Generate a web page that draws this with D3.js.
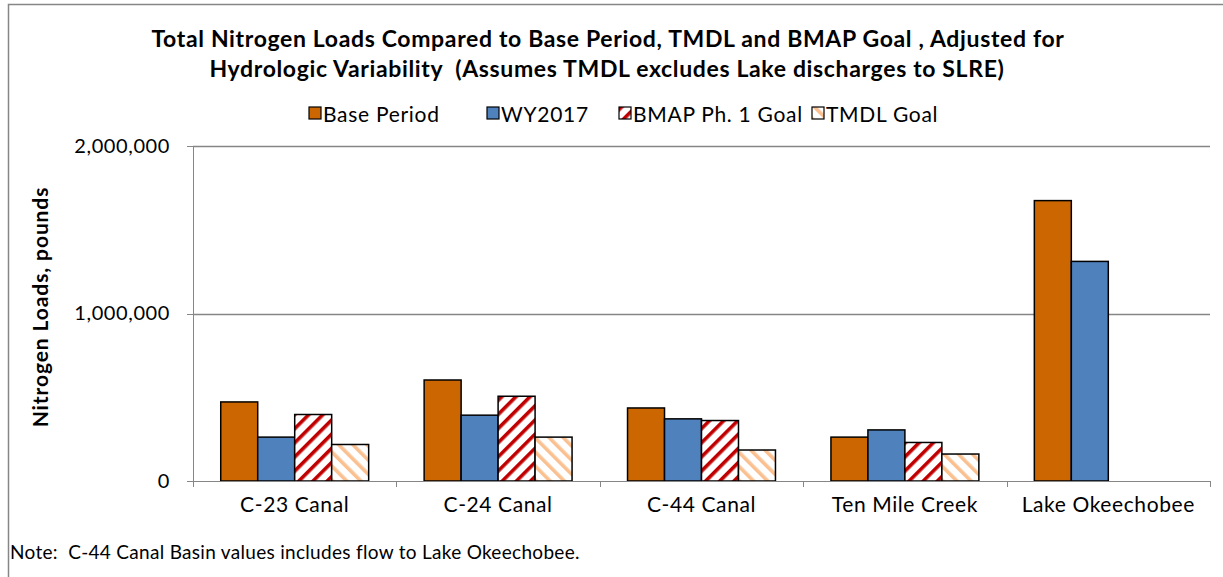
<!DOCTYPE html>
<html>
<head>
<meta charset="utf-8">
<script src="https://cdn.jsdelivr.net/npm/d3@7"></script>
<style>
  body { margin: 0; background: #fff; }
  svg text { font-family: Lato, "Open Sans", sans-serif; fill: #000; white-space: pre; }
  .axis path, .axis line { stroke: #868686; shape-rendering: crispEdges; }
</style>
</head>
<body>
<div id="chart"></div>
<script>
const categories = ['C-23 Canal', 'C-24 Canal', 'C-44 Canal', 'Ten Mile Creek', 'Lake Okeechobee'];
const seriesNames = ['Base Period', 'WY2017', 'BMAP Ph. 1 Goal', 'TMDL Goal'];
const basePeriod = [472000, 603000, 436000, 262000, 1674000];
const wy2017 = [262000, 393000, 371000, 305000, 1311000];
const bmapGoal = [397000, 506000, 361000, 230000, null];
const tmdlGoal = [218000, 262000, 185000, 161000, null];
const yTicks = [0, 1000000, 2000000];

const W = 1223, H = 577;
const margin = { top: 146, left: 193, right: 13, bottom: 96 };
const innerW = W - margin.left - margin.right;
const innerH = H - margin.top - margin.bottom;

const fills = ['#CC6600', '#4F81BD', 'url(#bmap)', 'url(#tmdl)'];
const seriesVals = [basePeriod, wy2017, bmapGoal, tmdlGoal];

const svg = d3.select('#chart').append('svg').attr('width', W).attr('height', H);

// hatch patterns
const defs = svg.append('defs');
const bm = defs.append('pattern').attr('id', 'bmap').attr('patternUnits', 'userSpaceOnUse')
  .attr('width', 10).attr('height', 10).attr('patternTransform', 'rotate(45)');
bm.append('rect').attr('width', 10).attr('height', 10).attr('fill', '#fff');
bm.append('rect').attr('width', 3.6).attr('height', 10).attr('fill', '#C00000');
const tm = defs.append('pattern').attr('id', 'tmdl').attr('patternUnits', 'userSpaceOnUse')
  .attr('width', 10).attr('height', 10).attr('patternTransform', 'rotate(-45)');
tm.append('rect').attr('width', 10).attr('height', 10).attr('fill', '#fff');
tm.append('rect').attr('width', 3.6).attr('height', 10).attr('fill', '#FAC090');

// outer border
svg.append('rect').attr('x', 8.5).attr('y', 4.5).attr('width', W).attr('height', H)
  .attr('fill', 'none').attr('stroke', '#868686').attr('stroke-width', 1.5);

// title
const title = svg.append('text').attr('text-anchor', 'middle').attr('font-weight', 'bold')
  .attr('font-size', 23).attr('letter-spacing', 0.65);
title.append('tspan').attr('x', 608).attr('y', 47).text('Total Nitrogen Loads Compared to Base Period, TMDL and BMAP Goal , Adjusted for');
title.append('tspan').attr('x', 607).attr('y', 77).text('Hydrologic Variability  (Assumes TMDL excludes Lake discharges to SLRE)');

const g = svg.append('g').attr('transform', `translate(${margin.left},${margin.top})`);

const x0 = d3.scaleBand().domain(categories).range([0, innerW]).paddingInner(0).paddingOuter(0);
const x1 = d3.scaleBand().domain(seriesNames).range([0, x0.bandwidth()]).paddingOuter(0.75).paddingInner(0);
const y = d3.scaleLinear().domain([0, 2000000]).range([innerH, 0]);

// gridlines
g.append('g').selectAll('line').data(yTicks.slice(1)).join('line')
  .attr('x1', 0).attr('x2', innerW)
  .attr('y1', d => Math.round(y(d)) + 0.5).attr('y2', d => Math.round(y(d)) + 0.5)
  .attr('stroke', '#868686').attr('stroke-width', 1.5);

// bars
const groups = g.append('g').selectAll('g').data(categories).join('g')
  .attr('transform', d => `translate(${x0(d)},0)`);
groups.selectAll('rect')
  .data((c, i) => seriesNames.map((s, j) => ({ s, j, v: seriesVals[j][i] })).filter(d => d.v != null))
  .join('rect')
  .attr('x', d => x1(d.s))
  .attr('width', x1.bandwidth())
  .attr('y', d => y(d.v))
  .attr('height', d => innerH - y(d.v))
  .attr('fill', d => fills[d.j])
  .attr('stroke', '#000').attr('stroke-width', 1.5);

// y axis
const yAxis = g.append('g').attr('class', 'axis')
  .call(d3.axisLeft(y).tickValues(yTicks).tickSize(6).tickPadding(17).tickFormat(d3.format(',')));
yAxis.selectAll('text').attr('font-size', 20).attr('letter-spacing', 0.6);
yAxis.select('.domain').attr('stroke-width', 1.5);

// x axis
const xAxis = g.append('g').attr('class', 'axis').attr('transform', `translate(0,${innerH})`);
xAxis.append('line').attr('x1', 0).attr('x2', innerW).attr('y1', 0.5).attr('y2', 0.5).attr('stroke-width', 1.5);
xAxis.selectAll('line.tk').data(d3.range(categories.length + 1)).join('line').attr('class', 'tk')
  .attr('x1', i => Math.round(i * x0.step()) + 0.5).attr('x2', i => Math.round(i * x0.step()) + 0.5)
  .attr('y1', 0).attr('y2', 6).attr('stroke-width', 1.5);
xAxis.selectAll('text').data(categories).join('text')
  .attr('x', d => x0(d) + x0.bandwidth() / 2).attr('y', 31)
  .attr('text-anchor', 'middle').attr('font-size', 21).attr('letter-spacing', 0.6).text(d => d);

// y axis title
svg.append('text').attr('transform', `translate(48,307) rotate(-90)`)
  .attr('text-anchor', 'middle').attr('font-weight', 'bold').attr('font-size', 21)
  .attr('letter-spacing', 0.9)
  .text('Nitrogen Loads, pounds');

// legend
const legendX = [309, 487, 619, 812];
const legend = svg.append('g').selectAll('g').data(seriesNames).join('g')
  .attr('transform', (d, i) => `translate(${legendX[i]},107)`);
legend.append('rect').attr('width', 12).attr('height', 12)
  .attr('fill', (d, i) => fills[i]).attr('stroke', '#000').attr('stroke-width', 1.2);
legend.append('text').attr('x', 14).attr('y', 15).attr('font-size', 21).attr('letter-spacing', 0.7).text(d => d);

// note
svg.append('text').attr('x', 10).attr('y', 559).attr('font-size', 19).attr('letter-spacing', 0.3)
  .text('Note:  C-44 Canal Basin values includes flow to Lake Okeechobee.');
</script>
</body>
</html>
